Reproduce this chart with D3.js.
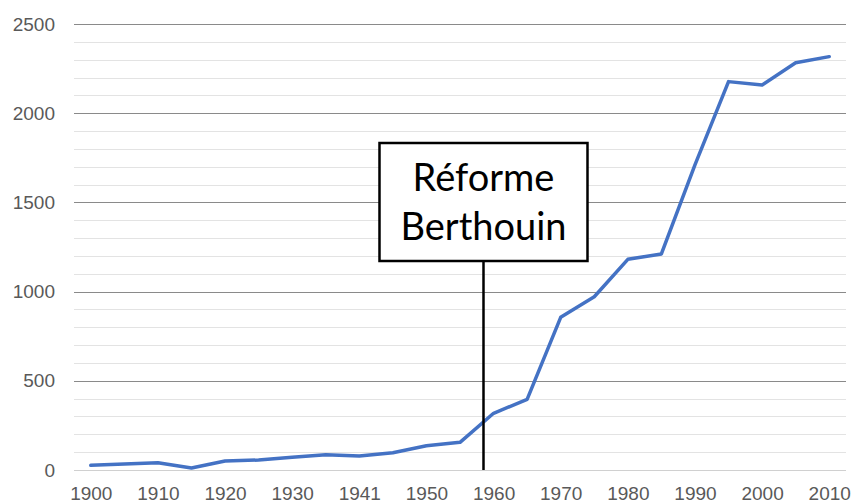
<!DOCTYPE html>
<html>
<head>
<meta charset="utf-8">
<script src="https://cdn.jsdelivr.net/npm/d3@7"></script>
<style>
  body { margin: 0; background: #fff; }
  svg { display: block; font-family: Lato, "Open Sans", sans-serif; }
</style>
</head>
<body>
<div class="chart"></div>
<script>
// categories on the x axis (one point every 5 years)
var years = ["1900","1905","1910","1915","1920","1925","1930","1935","1941","1945","1950","1955",
             "1960","1965","1970","1975","1980","1985","1990","1995","2000","2005","2010"];
var values = [26, 33, 41, 11, 50, 56, 71, 86, 78, 97, 136, 155,
              318, 396, 856, 971, 1181, 1211, 1710, 2177, 2158, 2283, 2317];
var xLabels = ["1900","1910","1920","1930","1941","1950","1960","1970","1980","1990","2000","2010"];
var yTicks = [0, 500, 1000, 1500, 2000, 2500];
var reformYear = 1958.5;
var reformText = ["Réforme", "Berthouin"];

var W = 853, H = 504;
var margin = {top: 24, right: 7, bottom: 34, left: 74};
var width = W - margin.left - margin.right,
    height = H - margin.top - margin.bottom;

var svg = d3.select(".chart").append("svg")
  .attr("width", W).attr("height", H);
var g = svg.append("g")
  .attr("transform", "translate(" + margin.left + "," + margin.top + ")");

var x = d3.scalePoint().domain(years).range([0, width]).padding(0.5);
var y = d3.scaleLinear().domain([0, 2500]).range([height, 0]);

// minor gridlines every 100
g.append("g").selectAll("line")
  .data(d3.range(100, 2500, 100).filter(function(v){ return v % 500 !== 0; }))
  .enter().append("line")
  .attr("x1", 0).attr("x2", width)
  .attr("y1", function(d){ return Math.round(y(d)) + 0.5; })
  .attr("y2", function(d){ return Math.round(y(d)) + 0.5; })
  .attr("stroke", "#e3e3e3");

// major gridlines
g.append("g").selectAll("line")
  .data(yTicks)
  .enter().append("line")
  .attr("x1", 0).attr("x2", width)
  .attr("y1", function(d){ return Math.round(y(d)) + 0.5; })
  .attr("y2", function(d){ return Math.round(y(d)) + 0.5; })
  .attr("stroke", function(d){ return d === 0 ? "#d0d0d0" : "#8a8a8a"; });

// y axis labels
var yAxis = d3.axisLeft(y).tickValues(yTicks).tickSize(0).tickPadding(19)
  .tickFormat(d3.format("d"));
g.append("g").attr("class", "y axis").call(yAxis)
  .call(function(s){ s.select(".domain").remove(); })
  .selectAll("text")
  .attr("fill", "#595959").style("font-size", "19px");

// x axis labels
var xAxis = d3.axisBottom(x).tickValues(xLabels).tickSize(0).tickPadding(17);
g.append("g").attr("class", "x axis")
  .attr("transform", "translate(0," + height + ")")
  .call(xAxis)
  .call(function(s){ s.select(".domain").remove(); })
  .selectAll("text")
  .attr("fill", "#595959").style("font-size", "19px");

// data line
var line = d3.line()
  .x(function(d, i){ return x(years[i]); })
  .y(function(d){ return y(d); });
g.append("path")
  .datum(values)
  .attr("d", line)
  .attr("fill", "none")
  .attr("stroke", "#4472c4")
  .attr("stroke-width", 3.5)
  .attr("stroke-linejoin", "round")
  .attr("stroke-linecap", "round");

// reform marker: position between the 1955 and 1960 categories
var step = x.step();
var rx = x("1955") + (reformYear - 1955) / 5 * step;
var boxW = 208, boxH = 118, boxTop = 119;
g.append("line")
  .attr("x1", rx).attr("x2", rx)
  .attr("y1", boxTop + boxH).attr("y2", y(0))
  .attr("stroke", "#000").attr("stroke-width", 2.5);
g.append("rect")
  .attr("x", rx - boxW / 2).attr("y", boxTop)
  .attr("width", boxW).attr("height", boxH)
  .attr("fill", "#fff").attr("stroke", "#000").attr("stroke-width", 2.5);
g.selectAll(".ann")
  .data(reformText)
  .enter().append("text")
  .attr("class", "ann")
  .attr("x", rx)
  .attr("y", function(d, i){ return boxTop + 48 + i * 49; })
  .attr("text-anchor", "middle")
  .style("font-size", "38px")
  .attr("fill", "#000")
  .text(function(d){ return d; });
</script>
</body>
</html>
